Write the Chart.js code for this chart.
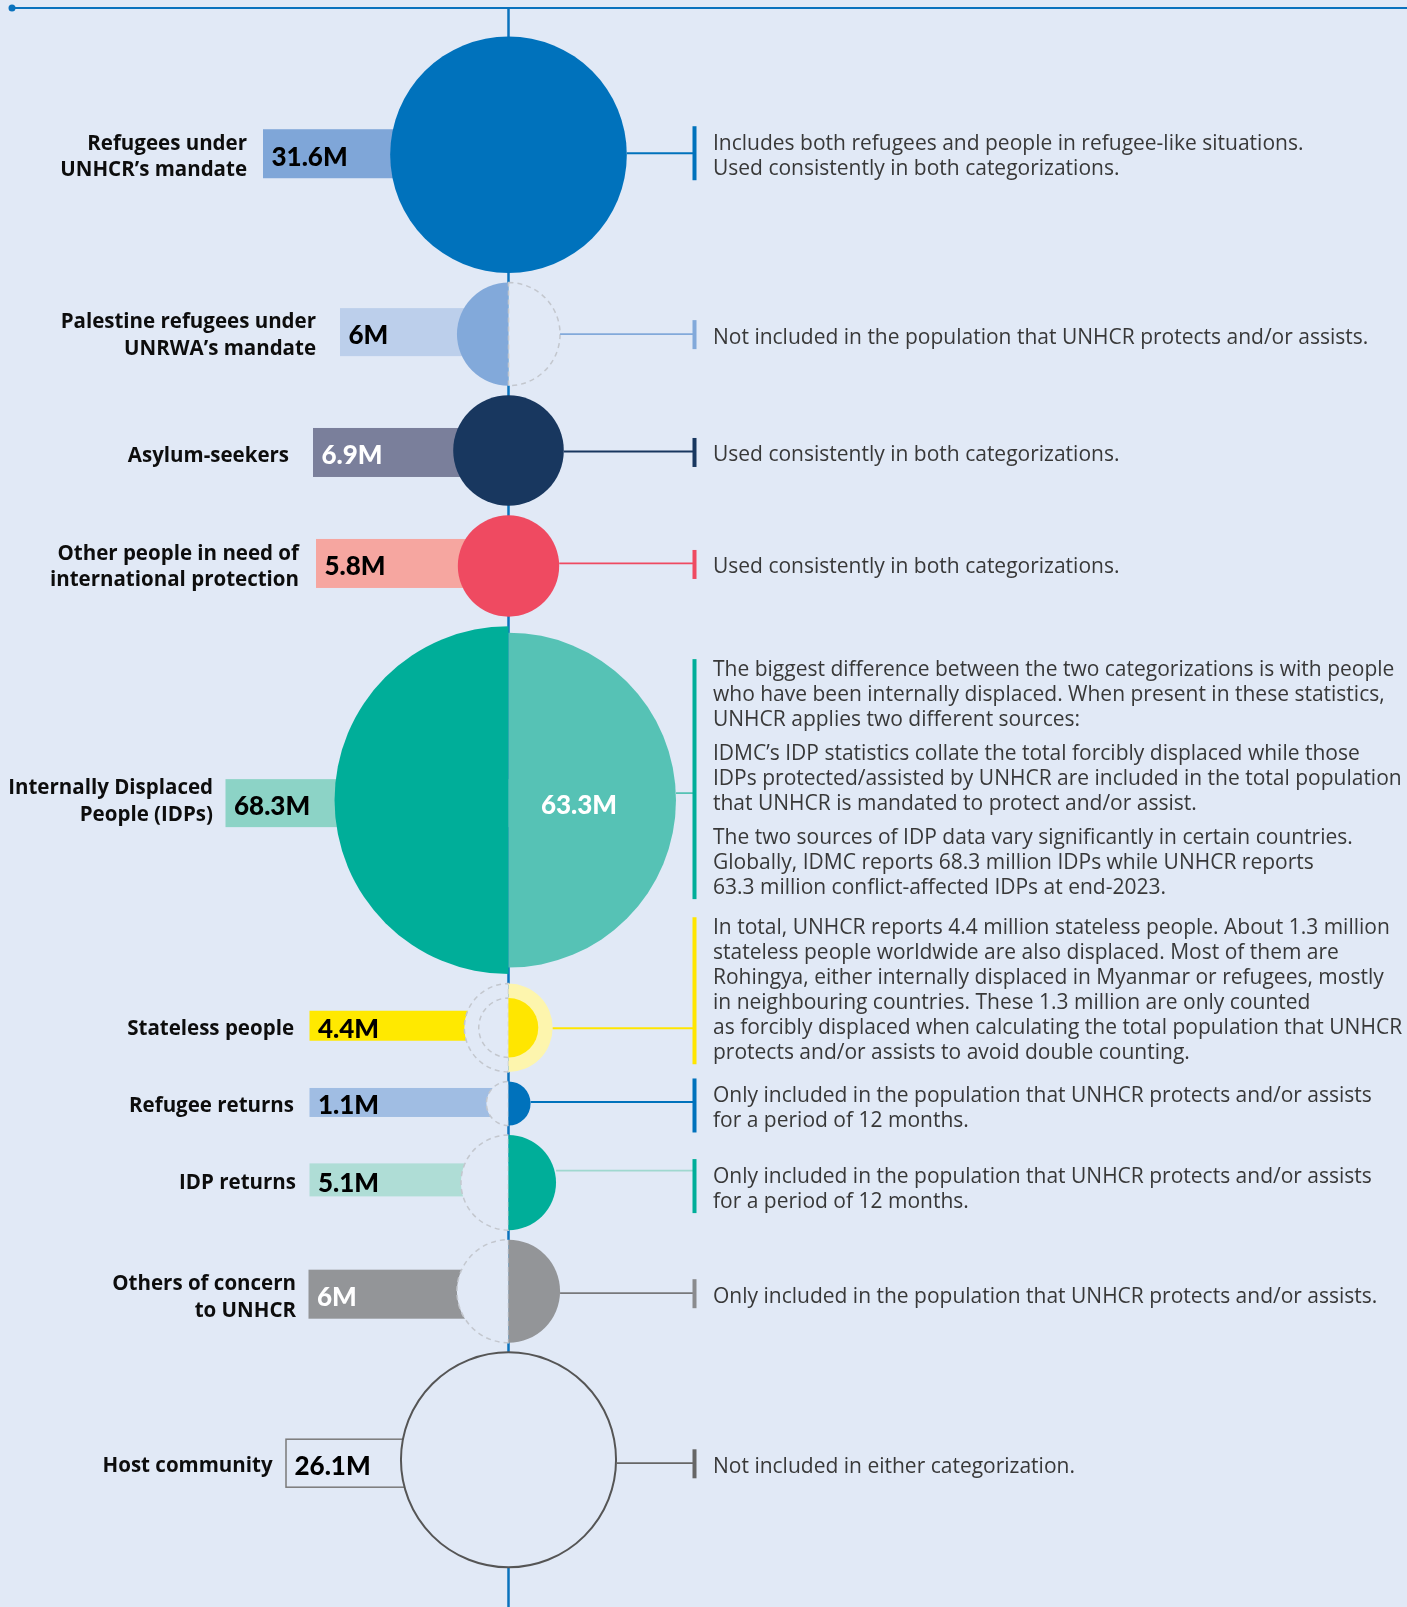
<!DOCTYPE html>
<html>
<head>
<meta charset="utf-8">
<script src="https://cdn.jsdelivr.net/npm/chart.js@4.4.1/dist/chart.umd.min.js"></script>
<style>
  html, body { margin: 0; padding: 0; background: #e1e9f6; }
  #wrap { width: 1407px; height: 1607px; }
</style>
</head>
<body>
<div id="wrap"><canvas id="chart" width="1407" height="1607"></canvas></div>
<script>
// Categories and values (millions)
const labelLines = [
  ['Refugees under', 'UNHCR\u2019s mandate'],
  ['Palestine refugees under', 'UNRWA\u2019s mandate'],
  ['Asylum-seekers'],
  ['Other people in need of', 'international protection'],
  ['Internally Displaced', 'People (IDPs)'],
  ['Stateless people'],
  ['Refugee returns'],
  ['IDP returns'],
  ['Others of concern', 'to UNHCR'],
  ['Host community']
];
const valueLabels = ['31.6M', '6M', '6.9M', '5.8M', '68.3M', '4.4M', '1.1M', '5.1M', '6M', '26.1M'];
// left half = forcibly displaced, right half = UNHCR protects and/or assists
const displacedValues = [31.6, 6, 6.9, 5.8, 68.3, 4.4, 1.1, 5.1, 6, 26.1];
const protectedValues = [31.6, 6, 6.9, 5.8, 63.3, 4.4, 1.1, 5.1, 6, 26.1];
const statelessInner = 2.0;
const kinds = ['full', 'leftOnly', 'full', 'full', 'split', 'stateless', 'rightOnly', 'rightOnly', 'rightOnly', 'outline'];

const notes = [
  [['Includes both refugees and people in refugee-like situations.', 'Used consistently in both categorizations.']],
  [['Not included in the population that UNHCR protects and/or assists.']],
  [['Used consistently in both categorizations.']],
  [['Used consistently in both categorizations.']],
  [['The biggest difference between the two categorizations is with people', 'who have been internally displaced. When present in these statistics,', 'UNHCR applies two different sources:'],
   ['IDMC\u2019s IDP statistics collate the total forcibly displaced while those', 'IDPs protected/assisted by UNHCR are included in the total population', 'that UNHCR is mandated to protect and/or assist.'],
   ['The two sources of IDP data vary significantly in certain countries.', 'Globally, IDMC reports 68.3 million IDPs while UNHCR reports', '63.3 million conflict-affected IDPs at end-2023.']],
  [['In total, UNHCR reports 4.4 million stateless people. About 1.3 million', 'stateless people worldwide are also displaced. Most of them are', 'Rohingya, either internally displaced in Myanmar or refugees, mostly', 'in neighbouring countries. These 1.3 million are only counted', 'as forcibly displaced when calculating the total population that UNHCR', 'protects and/or assists to avoid double counting.']],
  [['Only included in the population that UNHCR protects and/or assists', 'for a period of 12 months.']],
  [['Only included in the population that UNHCR protects and/or assists', 'for a period of 12 months.']],
  [['Only included in the population that UNHCR protects and/or assists.']],
  [['Not included in either categorization.']]
];

// Styles
const BG = '#e1e9f6';
const leftColors  = ['#0072bc', '#82a9da', '#18375f', '#ef4a61', '#00ae99', null, null, null, null, null];
const rightColors = ['#0072bc', null, '#18375f', '#ef4a61', '#56c2b5', '#fdf5ad', '#0072bc', '#00ae99', '#939598', null];
const barColors   = ['#7fa6d8', '#bccfeb', '#7a7f9b', '#f6a6a0', '#8cd3c6', '#ffe900', '#a0bde3', '#afddd6', '#939598', null];
const valueColors = ['#000', '#000', '#fff', '#000', '#000', '#000', '#000', '#000', '#fff', '#000'];
const lineColors  = ['#0072bc', '#82a9da', '#18375f', '#ef4a61', '#56c2b5', '#ffe600', '#0072bc', '#9fd8cf', '#77787b', '#666'];
const tickColors  = ['#0072bc', '#82a9da', '#18375f', '#ef4a61', '#00ae99', '#ffe600', '#0072bc', '#00ae99', '#8a8b8e', '#666'];
const NOTE_FONT = '400 21px "Open Sans"';
const LABEL_FONT = '700 20.5px "Open Sans"';
const VALUE_FONT = '900 26px Lato';

// Layout (pixels)
const AXIS_X = 508.5, K = 21.05, GAP = 9.5, TOP = 36.4, TICK_X = 694.5, NOTE_X = 713;
const barLeft   = [263, 340, 313, 316, 225.5, 309.5, 309.5, 309.5, 308.5, 286];
const barHeight = [49, 48, 49, 49, 48, 30, 29, 33, 49, 48];
const barOffset = [-1, -2, 2, -2.5, 3, -2, -1, -2.7, 3, 3.4];
const labelRight = [247, 316, 289, 299, 213, 294, 294, 296, 296, 272.6];
const labelShift = [2, 2, 2, 2, -3, 2, 2, 2, 2, 2];
const noteOffset = [0, 2, 3.5, 0, -23, -39, 3.5, 5, 4, 5.5];
const lineOffset = [-1.5, 0, 1, -2.5, -7, 0.5, -1.5, -12, 2, 3.4];

const rad = v => K * Math.sqrt(v);
const rowR = displacedValues.map((v, i) => rad(Math.max(v, protectedValues[i])));
const rowY = [];
rowR.forEach((r, i) => rowY.push(i === 0 ? TOP + r : rowY[i - 1] + rowR[i - 1] + GAP + r));

const fullIdx = kinds.map((k, i) => k === 'full' ? i : -1).filter(i => i >= 0);

function halfCircle(ctx, cx, cy, r, side, fill, dashed) {
  ctx.beginPath();
  if (side === 'left') ctx.arc(cx, cy, r, Math.PI / 2, Math.PI * 1.5);
  else ctx.arc(cx, cy, r, -Math.PI / 2, Math.PI / 2);
  ctx.closePath();
  ctx.fillStyle = fill || BG;
  ctx.fill();
  if (dashed) {
    ctx.setLineDash([5, 4]);
    ctx.strokeStyle = '#c3c7ce';
    ctx.lineWidth = 1.5;
    ctx.stroke();
    ctx.setLineDash([]);
  }
}

const infographic = {
  id: 'infographic',
  beforeDatasetsDraw(chart) {
    const ctx = chart.ctx;
    const xs = chart.scales.x, ys = chart.scales.y;
    const cx = xs.getPixelForValue(AXIS_X);
    const px = r => xs.getPixelForValue(AXIS_X + r) - cx;
    ctx.save();
    // top rule and vertical axis
    ctx.strokeStyle = '#0a72bd';
    ctx.lineWidth = 2;
    ctx.beginPath();
    ctx.moveTo(xs.getPixelForValue(12), ys.getPixelForValue(8));
    ctx.lineTo(xs.getPixelForValue(1407), ys.getPixelForValue(8));
    ctx.stroke();
    ctx.fillStyle = '#0a72bd';
    ctx.beginPath();
    ctx.arc(xs.getPixelForValue(12), ys.getPixelForValue(8), 3.5, 0, Math.PI * 2);
    ctx.fill();
    ctx.lineWidth = 2.5;
    ctx.beginPath();
    ctx.moveTo(cx, ys.getPixelForValue(8));
    ctx.lineTo(cx, ys.getPixelForValue(1607));
    ctx.stroke();

    // value bars
    rowY.forEach((yv, i) => {
      const cy = ys.getPixelForValue(yv) + barOffset[i];
      const x0 = xs.getPixelForValue(barLeft[i]);
      const h = barHeight[i];
      if (barColors[i]) {
        ctx.fillStyle = barColors[i];
        ctx.fillRect(x0, cy - h / 2, cx - x0, h);
      } else {
        ctx.strokeStyle = '#7a7a7a';
        ctx.lineWidth = 1.5;
        ctx.strokeRect(x0, cy - h / 2, cx - x0, h);
      }
    });

    // half circles
    rowY.forEach((yv, i) => {
      const cy = ys.getPixelForValue(yv);
      const rl = px(rad(displacedValues[i])), rr = px(rad(protectedValues[i]));
      const k = kinds[i];
      if (k === 'leftOnly') {
        halfCircle(ctx, cx, cy, rl, 'left', leftColors[i], false);
        halfCircle(ctx, cx, cy, rr, 'right', BG, true);
      } else if (k === 'split') {
        halfCircle(ctx, cx, cy, rl, 'left', leftColors[i], false);
        halfCircle(ctx, cx, cy, rr, 'right', rightColors[i], false);
      } else if (k === 'stateless') {
        const ri = px(rad(statelessInner));
        halfCircle(ctx, cx, cy, rl, 'left', BG, true);
        halfCircle(ctx, cx, cy, ri, 'left', BG, true);
        halfCircle(ctx, cx, cy, rr, 'right', rightColors[i], false);
        halfCircle(ctx, cx, cy, ri, 'right', '#ffe600', false);
      } else if (k === 'rightOnly') {
        halfCircle(ctx, cx, cy, rl, 'left', BG, true);
        halfCircle(ctx, cx, cy, rr, 'right', rightColors[i], false);
      }
    });
    ctx.restore();
  },
  afterDatasetsDraw(chart) {
    const ctx = chart.ctx;
    const xs = chart.scales.x, ys = chart.scales.y;
    const cx = xs.getPixelForValue(AXIS_X);
    const px = r => xs.getPixelForValue(AXIS_X + r) - cx;
    const tx = xs.getPixelForValue(TICK_X);
    ctx.save();
    rowY.forEach((yv, i) => {
      const cy = ys.getPixelForValue(yv);
      const by = cy + barOffset[i];
      const rr = px(rad(protectedValues[i]));
      // connector
      const ly = cy + lineOffset[i];
      ctx.strokeStyle = lineColors[i];
      ctx.lineWidth = 1.8;
      ctx.beginPath();
      ctx.moveTo(cx + rr, ly);
      ctx.lineTo(tx, ly);
      ctx.stroke();

      // notes
      const paras = notes[i];
      let nLines = 0;
      paras.forEach(p => nLines += p.length);
      const H = (nLines - 1) * 25 + (paras.length - 1) * 9;
      let capY = cy + noteOffset[i] - H / 2;
      const firstCap = capY;
      ctx.font = NOTE_FONT;
      ctx.fillStyle = '#383838';
      ctx.textAlign = 'left';
      ctx.textBaseline = 'alphabetic';
      paras.forEach(p => {
        p.forEach(line => {
          ctx.fillText(line, NOTE_X, capY + 7.5, 1407 - NOTE_X - 3);
          capY += 25;
        });
        capY += 9;
      });
      const lastCap = capY - 25 - 9;
      const tTop = firstCap - (nLines > 3 ? 9 : 16);
      ctx.fillStyle = tickColors[i];
      ctx.fillRect(tx - 2, tTop, 4, lastCap + 13 - tTop);

      // category labels
      const ll = labelLines[i];
      ctx.font = LABEL_FONT;
      ctx.fillStyle = '#0d0d0d';
      ctx.textAlign = 'right';
      ll.forEach((t, j) => {
        const yy = by + labelShift[i] + (j - (ll.length - 1) / 2) * 26.5 + 7.3;
        ctx.fillText(t, xs.getPixelForValue(labelRight[i]), yy);
      });

      // value labels
      ctx.font = VALUE_FONT;
      ctx.fillStyle = valueColors[i];
      ctx.textAlign = 'left';
      ctx.fillText(valueLabels[i], xs.getPixelForValue(barLeft[i]) + 8.5, by + 12);
    });
    // protected IDP value inside right half
    const iy = ys.getPixelForValue(rowY[4]);
    ctx.font = VALUE_FONT;
    ctx.fillStyle = '#fff';
    ctx.textAlign = 'center';
    ctx.fillText(protectedValues[4].toFixed(1) + 'M', cx + 70.5, iy + 14);
    ctx.restore();
  }
};

new Chart(document.getElementById('chart'), {
  type: 'bubble',
  data: {
    datasets: [
      {
        data: fullIdx.map(i => ({ x: AXIS_X, y: rowY[i], r: rad(displacedValues[i]) })),
        backgroundColor: fullIdx.map(i => leftColors[i]),
        borderWidth: 0,
        clip: false
      },
      {
        data: [{ x: AXIS_X, y: rowY[9], r: rad(displacedValues[9]) }],
        backgroundColor: BG,
        borderColor: '#555',
        borderWidth: 2,
        clip: false
      }
    ]
  },
  options: {
    responsive: false,
    animation: false,
    events: [],
    layout: { padding: 0, autoPadding: false },
    plugins: { legend: { display: false }, tooltip: { enabled: false } },
    scales: {
      x: { type: 'linear', min: 0, max: 1407, display: false },
      y: { type: 'linear', min: 0, max: 1607, reverse: true, display: false }
    }
  },
  plugins: [infographic]
});
</script>
</body>
</html>
